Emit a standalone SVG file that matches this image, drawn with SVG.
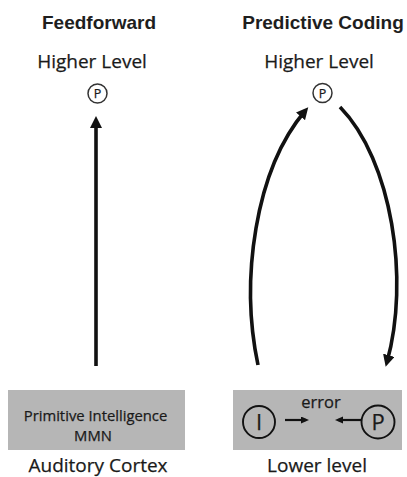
<svg xmlns="http://www.w3.org/2000/svg" width="407" height="477" viewBox="0 0 407 477">
<defs>
<style>
.title{font-family:"Liberation Sans",Arial,sans-serif;font-weight:bold;font-size:19px;fill:#1e1e1e;text-anchor:middle}
.lbl{font-family:"Open Sans","Noto Sans",sans-serif;fill:#1a1a1a;text-anchor:middle;stroke:#1a1a1a;stroke-width:0.25}
.box{fill:#b6b6b6}
.conn{fill:none;stroke:#111;stroke-width:3.6}
.thin{fill:none;stroke:#111;stroke-width:2.2}
.node{fill:#fff;stroke:#333;stroke-width:1.5}
.node2{fill:none;stroke:#111;stroke-width:1.9}
</style>
<marker id="ah" markerUnits="userSpaceOnUse" markerWidth="14" markerHeight="12" refX="7" refY="6" orient="auto">
<path d="M0,0 L12,6 L0,12 z" fill="#111"/>
</marker>
<marker id="ahs" markerUnits="userSpaceOnUse" markerWidth="9" markerHeight="8" refX="5" refY="3.5" orient="auto">
<path d="M0,0 L8,3.5 L0,7 z" fill="#111"/>
</marker>
</defs>
<rect width="407" height="477" fill="#fff"/>
<text class="title" x="99" y="29">Feedforward</text>
<text class="title" x="323" y="29">Predictive Coding</text>
<g id="ff-higher">
<text class="lbl" x="92" y="68" font-size="19">Higher Level</text>
<circle class="node" cx="97.5" cy="93.5" r="9.5"/>
<text class="lbl" x="97.5" y="98" font-size="12.5">P</text>
</g>
<g id="pc-higher">
<text class="lbl" x="319" y="68" font-size="19">Higher Level</text>
<circle class="node" cx="322.5" cy="93" r="9.5"/>
<text class="lbl" x="322.5" y="97.5" font-size="12.5">P</text>
</g>
<g id="ff-lower">
<rect class="box" x="8" y="390" width="177" height="60"/>
<text class="lbl" x="95.5" y="420.5" font-size="14.8">Primitive Intelligence</text>
<text class="lbl" x="93" y="441" font-size="14.8">MMN</text>
<text class="lbl" x="98" y="472" font-size="19">Auditory Cortex</text>
</g>
<g id="pc-lower">
<rect class="box" x="233" y="390" width="169" height="60"/>
<text class="lbl" x="321" y="408" font-size="16.5">error</text>
<g id="node-I">
<circle class="node2" cx="259" cy="422" r="16"/>
<text class="lbl" x="259" y="430" font-size="22">I</text>
</g>
<g id="node-P">
<circle class="node2" cx="378" cy="422" r="16.5"/>
<text class="lbl" x="378" y="430" font-size="22">P</text>
</g>
<text class="lbl" x="317" y="472" font-size="19">Lower level</text>
</g>
<g id="connectors">
<line class="conn" x1="96" y1="366" x2="96" y2="121" marker-end="url(#ah)"/>
<path class="conn" d="M258,365 C240,280 255,170 305,111" marker-end="url(#ah)"/>
<path class="conn" d="M340,107 C392,160 410,280 387,362" marker-end="url(#ah)"/>
<line class="thin" x1="285" y1="420" x2="306" y2="420" marker-end="url(#ahs)"/>
<line class="thin" x1="361" y1="420" x2="338" y2="420" marker-end="url(#ahs)"/>
</g>
</svg>
